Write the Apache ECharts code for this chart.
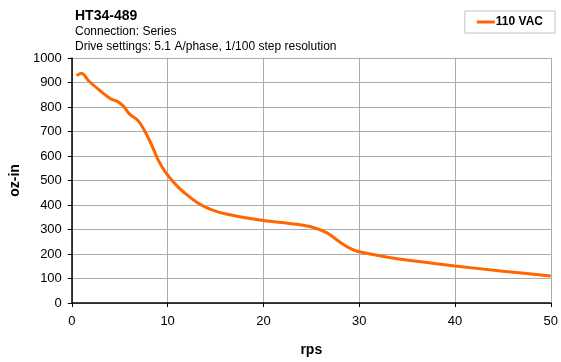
<!DOCTYPE html>
<html><head><meta charset="utf-8">
<script src="https://cdn.jsdelivr.net/npm/echarts@6/dist/echarts.min.js"></script>
<style>html,body{margin:0;padding:0;background:#fff}#c{width:561px;height:362px}</style>
</head><body><div id="c"></div>
<script>
const seriesName = '110 VAC';
const speedRps = [0.5, 1, 1.8, 3, 4, 4.8, 5.4, 6, 6.9, 7.5, 8.3, 9, 9.8, 11, 12, 13, 14, 15, 16, 17.5, 20, 23.5, 25.2, 26.6, 28, 29, 30, 33, 36, 40, 45, 50];
const torqueOzIn = [928, 938, 905, 865, 835, 822, 803, 772, 745, 710, 648, 585, 532, 477, 442, 412, 390, 375, 364, 352, 337, 321, 308, 287, 248, 224, 209, 187, 170, 151, 130, 110];
const titleText = 'HT34-489';
const subLines = ['Connection: Series', 'Drive settings: 5.1 A/phase, 1/100 step resolution'];

const font = 'Liberation Sans, Arial, sans-serif';
const chart = echarts.init(document.getElementById('c'), null, {renderer: 'canvas'});
chart.setOption({
  animation: false,
  title: [
    {text: titleText, left: 70, top: 4, textStyle: {fontFamily: font, fontSize: 14, fontWeight: 'bold', color: '#000'}},
    {text: subLines.join('\n'), left: 70, top: 19, textStyle: {fontFamily: font, fontSize: 12, fontWeight: 'normal', color: '#000', lineHeight: 15}}
  ],
  legend: {
    data: [seriesName], right: 6, top: 11, width: 80,
    padding: [5, 12, 5, 12], borderColor: '#c0c0c0', borderWidth: 1,
    itemWidth: 18, itemHeight: 3, itemGap: 2,
    icon: 'rect',
    textStyle: {fontFamily: font, fontSize: 12, fontWeight: 'bold', color: '#000', padding: [0,0,0,-4]}
  },
  grid: {left: 70, right: 8, top: 58, bottom: 53, containLabel: false},
  xAxis: {
    type: 'value', min: 0, max: 50, interval: 10,
    name: 'rps', nameLocation: 'middle', nameGap: 40,
    nameTextStyle: {fontFamily: font, fontSize: 14, fontWeight: 'bold', color: '#000'},
    axisLine: {show: true, onZero: false, lineStyle: {color: '#000', width: 1.5}},
    axisTick: {show: true, length: 4, lineStyle: {color: '#000'}},
    axisLabel: {fontFamily: font, fontSize: 13, color: '#000', margin: 12},
    splitLine: {show: true, lineStyle: {color: '#ababab', width: 1}}
  },
  yAxis: {
    type: 'value', min: 0, max: 1000, interval: 100,
    name: 'oz-in', nameLocation: 'middle', nameGap: 37, nameRotate: 90,
    nameTextStyle: {fontFamily: font, fontSize: 14, fontWeight: 'bold', color: '#000'},
    axisLine: {show: true, lineStyle: {color: '#000', width: 1.5}},
    axisTick: {show: true, length: 4, lineStyle: {color: '#000'}},
    axisLabel: {fontFamily: font, fontSize: 13, color: '#000', margin: 10, formatter: v => String(v)},
    splitLine: {show: true, lineStyle: {color: '#ababab', width: 1}}
  },
  series: [{
    name: seriesName, type: 'line', smooth: 0.35, showSymbol: false,
    data: speedRps.map((x, i) => [x, torqueOzIn[i]]),
    lineStyle: {color: '#ff6600', width: 3}, itemStyle: {color: '#ff6600'}
  }]
});
</script></body></html>
